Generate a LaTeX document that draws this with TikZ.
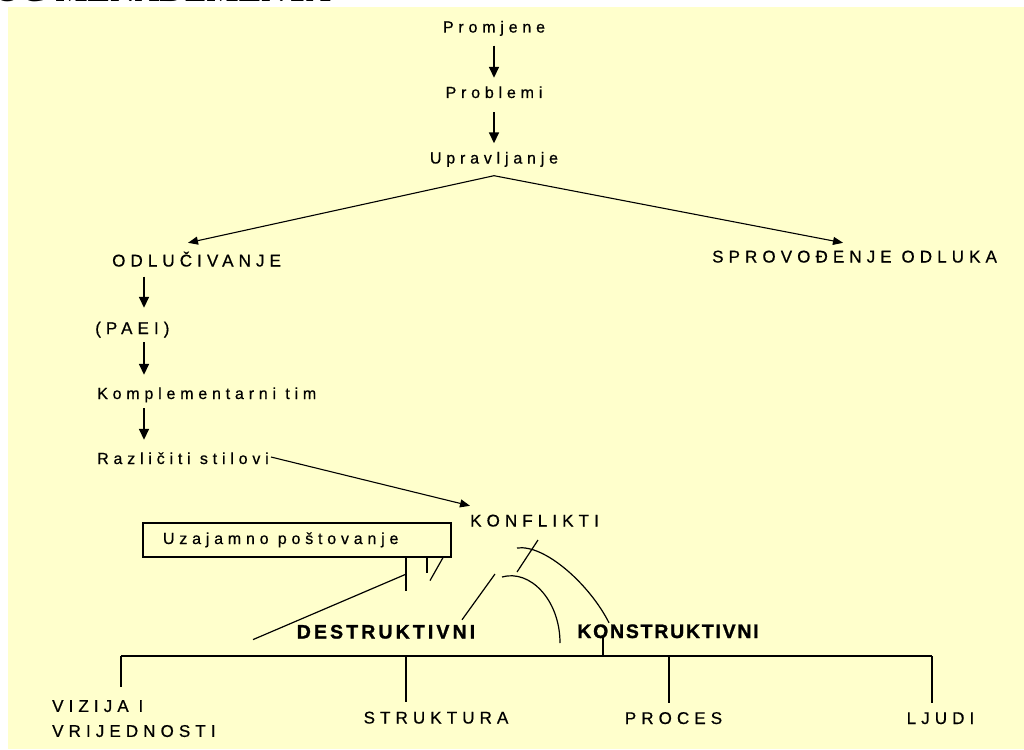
\documentclass[tikz,border=0pt]{standalone}
\usepackage{fontspec}
\setmainfont{Liberation Sans}
\newfontfamily\widesans{Liberation Sans}[LetterSpace=30,FakeBold=0.6]
\newfontfamily\boldsans{Liberation Sans}[LetterSpace=9,FakeBold=1.2]
\newfontfamily\boldwide{Liberation Sans}[LetterSpace=16,FakeBold=1.2]
\newfontfamily\headserif{Liberation Serif}
\usetikzlibrary{arrows.meta,calc}
\definecolor{paper}{HTML}{FFFFCC}

\tikzset{
  lbl/.style={inner sep=0pt,text height=11pt,text depth=3pt,font=\widesans\fontsize{16}{25}\selectfont},
  caps/.style={lbl,font=\widesans\fontsize{17}{25}\selectfont},
  kind/.style={inner sep=0pt,text height=13pt,text depth=0pt,font=\boldsans\bfseries\fontsize{19.5}{22}\selectfont},
  arr/.style={-{Triangle[length=11pt,width=10pt]},line width=1.6pt},
  slant/.style={-{Triangle[length=10pt,width=8pt]},line width=1.1pt},
  ln/.style={line width=1.2pt},
}

\begin{document}
\begin{tikzpicture}[x=1pt,y=-1pt]
  \useasboundingbox (0,0) rectangle (1024,749);
  \fill[paper] (8,7) rectangle (1024,749);
  \node[anchor=base west,inner sep=0pt,font=\headserif\bfseries\fontsize{34}{36}\selectfont] (naslov) at (-6,2) {OG MENADŽMENTA};

  \node[lbl] (promjene) at (494,28.5) {Promjene};
  \node[lbl] (problemi) at (494,94) {Problemi};
  \node[lbl] (upravljanje) at (494,159.5) {Upravljanje};
  \draw[arr,shorten <=10pt,shorten >=9pt] (promjene) -- (problemi);
  \draw[arr,shorten <=11pt,shorten >=9pt] (problemi) -- (upravljanje);

  \coordinate (split) at ($(upravljanje.south)+(0,9)$);
  \node[caps,anchor=west] (odlucivanje) at (112,262.5) {ODLUČIVANJE};
  \node[caps,anchor=west] (sprovodjenje) at (712,258.5) {SPROVOĐENJE ODLUKA};
  \draw[slant] (split) -- ($(odlucivanje.north west)+(76,-12.5)$);
  \draw[slant] (split) -- ($(sprovodjenje.north west)+(131,-8.5)$);

  \coordinate (col) at (144,0);
  \node[caps,anchor=west] (paei) at (95,330) {(PAEI)};
  \node[lbl,anchor=west] (tim) at (97,395) {Komplementarni tim};
  \node[lbl,anchor=west] (stilovi) at (97,460) {Različiti stilovi};
  \draw[arr,shorten <=7pt,shorten >=15pt] (odlucivanje.south -| col) -- (paei.north -| col);
  \draw[arr,shorten <=5pt,shorten >=13pt] (paei.south -| col) -- (tim.north -| col);
  \draw[arr,shorten <=6pt,shorten >=13pt] (tim.south -| col) -- (stilovi.north -| col);

  \node[caps,anchor=west] (konflikti) at (470,522.5) {KONFLIKTI};
  \draw[slant] ($(stilovi.east)+(2,-3)$) -- ($(konflikti.north west)+(0,-9.5)$);

  \node[lbl,draw,ln,inner xsep=20pt,minimum height=34pt] (postovanje) at (297,540) {\makebox[268pt][l]{Uzajamno\ poštovanje}};
  \draw[ln] ($(postovanje.south)+(109,0)$) -- ++(0,33);
  \draw[ln] ($(postovanje.south)+(130,0)$) -- ++(0,15);
  \draw[ln] ($(postovanje.south)+(146,0)$) -- ++(-13,23);
  \draw[ln] ($(postovanje.south)+(108,17)$) -- ++(-152,65);

  \node[kind,font=\boldwide\bfseries\fontsize{19.5}{22}\selectfont] (destruktivni) at (386,632) {DESTRUKTIVNI};
  \node[kind] (konstruktivni) at (668,631.5) {KONSTRUKTIVNI};

  \draw[ln] (538,540) -- (517,572);
  \draw[ln] (517,548) .. controls (545,544) and (590,585) .. ($(konstruktivni.north)+(-59,-2)$);
  \draw[ln] (502,577) .. controls (530,569) and (560,600) .. (560,643);
  \draw[ln] (495,574) -- ($(destruktivni.north)+(76,-5.5)$);

  \coordinate (tapV) at (121,656);
  \coordinate (tapS) at (406,656);
  \coordinate (tapK) at (603,656);
  \coordinate (tapP) at (669,656);
  \coordinate (tapL) at (932,656);
  \draw[ln] (tapV) -- (tapL);
  \draw[ln] ($(konstruktivni.south -| tapK)+(0,-1)$) -- (tapK);

  \node[anchor=north west,inner sep=0pt,align=left,font=\widesans\fontsize{17}{25}\selectfont] (vizija) at (52,700) {VIZIJA I\\VRIJEDNOSTI};
  \node[caps] (struktura) at (436,719.5) {STRUKTURA};
  \node[caps] (proces) at (673.5,720) {PROCES};
  \node[caps] (ljudi) at (940.5,720) {LJUDI};
  \draw[ln] (tapV) -- ($(vizija.north -| tapV)+(0,-13)$);
  \draw[ln] (tapS) -- ($(struktura.north -| tapS)+(0,-10)$);
  \draw[ln] (tapP) -- ($(proces.north -| tapP)+(0,-10)$);
  \draw[ln] (tapL) -- ($(ljudi.north -| tapL)+(0,-10)$);
\end{tikzpicture}
\end{document}
